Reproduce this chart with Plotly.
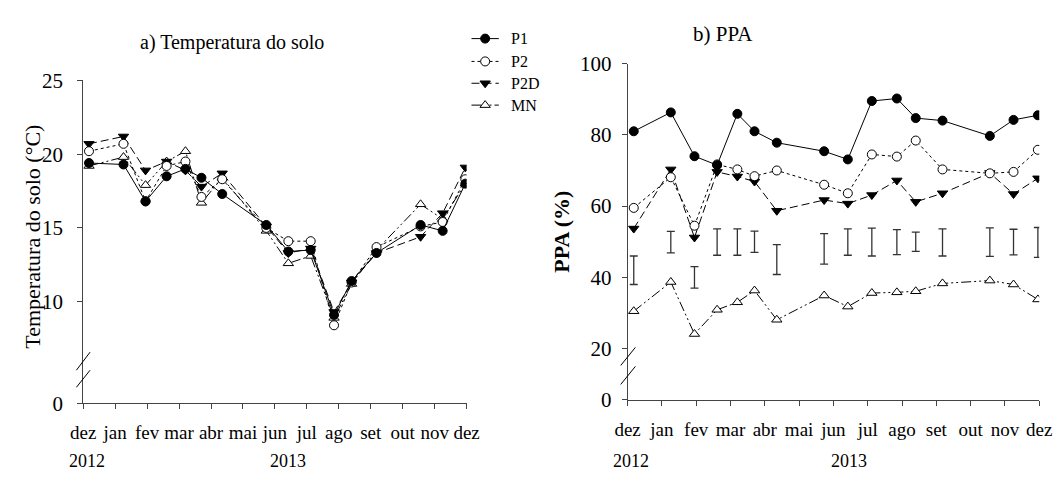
import plotly.graph_objects as go

# ---- data ----------------------------------------------------------------
# sampling dates, in months after dez/2012
dates = [0.18, 1.26, 1.95, 2.61, 3.2, 3.7, 4.35, 5.73, 6.42, 7.12, 7.85, 8.4, 9.18, 10.56, 11.25, 11.96]
month_labels = ["dez", "jan", "fev", "mar", "abr", "mai", "jun", "jul", "ago", "set", "out", "nov", "dez"]

# a) soil temperature (°C)
temp_P1 = [19.4, 19.3, 16.8, 18.5, 19.0, 18.4, 17.3, 15.2, 13.4, 13.5, 9.1, 11.4, 13.3, 15.2, 14.8, 18.0]
temp_P2 = [20.2, 20.7, 16.8, 19.2, 19.5, 17.1, 18.3, 15.0, 14.1, 14.1, 8.4, 11.3, 13.7, 15.1, 15.4, 18.3]
temp_P2D = [20.7, 21.2, 18.9, 19.5, 18.9, 17.8, 18.7, 15.1, 13.3, 13.6, 9.3, 11.3, 13.3, 14.4, 16.0, 19.1]
temp_MN = [19.2, 19.8, 17.9, 19.5, 20.2, 16.7, 18.4, 14.8, 12.6, 13.1, 8.9, 11.2, 13.5, 16.6, 15.6, 18.0]

# b) PPA (%)
ppa_P1 = [81.0, 86.3, 74.0, 71.5, 85.9, 81.0, 77.8, 75.4, 73.1, 89.5, 90.2, 84.7, 84.0, 79.7, 84.2, 85.5]
ppa_P2 = [59.5, 68.1, 54.5, 71.7, 70.3, 68.4, 70.0, 66.0, 63.6, 74.5, 73.9, 78.4, 70.3, 69.2, 69.6, 75.8]
ppa_P2D = [53.7, 70.3, 51.2, 69.6, 68.3, 66.9, 58.7, 61.7, 60.7, 63.1, 67.2, 61.2, 63.6, 69.3, 63.4, 67.8]
ppa_MN = [30.5, 38.7, 24.1, 30.9, 33.0, 36.3, 28.1, 34.9, 31.8, 35.6, 35.8, 36.1, 38.3, 39.1, 38.0, 33.8]

# b) error bars (centre and half-length)
bar_center = [42.0, 49.9, 40.0, 49.9, 49.9, 50.0, 45.0, 48.0, 49.9, 49.9, 49.9, 50.0, 49.8, 49.9, 49.9, 49.8]
bar_half = [4.0, 3.0, 3.0, 3.7, 3.7, 3.0, 4.2, 4.3, 3.7, 3.9, 3.5, 2.7, 3.8, 4.0, 3.6, 4.2]

series_names = ["P1", "P2", "P2D", "MN"]

# ---- styling ---------------------------------------------------------------
W, H = 1062, 481
FONT = "Liberation Serif"
styles = {
    "P1": dict(dash="solid", symbol="circle", fill="black"),
    "P2": dict(dash="dot", symbol="circle", fill="white"),
    "P2D": dict(dash="8px,4px", symbol="triangle-down", fill="black"),
    "MN": dict(dash="10px,3px,2px,3px,2px,3px", symbol="triangle-up", fill="white"),
}


def px_x(p):
    return p / W


def px_y(p):
    return 1 - p / H


fig = go.Figure()


def add_series(name, xs, ys, xa, ya):
    st = styles[name]
    fig.add_trace(go.Scatter(
        x=xs, y=ys, name=name, mode="lines+markers", xaxis=xa, yaxis=ya,
        line=dict(color="black", width=1, dash=st["dash"]),
        marker=dict(symbol=st["symbol"], size=9, color=st["fill"],
                    line=dict(color="black", width=1)),
        showlegend=False,
    ))


temp = {"P1": temp_P1, "P2": temp_P2, "P2D": temp_P2D, "MN": temp_MN}
ppa = {"P1": ppa_P1, "P2": ppa_P2, "P2D": ppa_P2D, "MN": ppa_MN}

for n in ["MN", "P2D", "P2", "P1"]:
    add_series(n, dates, temp[n], "x", "y")

fig.add_trace(go.Scatter(
    x=dates, y=bar_center, mode="markers", xaxis="x2", yaxis="y2",
    marker=dict(size=1, color="rgba(0,0,0,0)"),
    error_y=dict(type="data", array=bar_half, color="#333", thickness=1.3, width=4),
    showlegend=False, hoverinfo="skip",
))
for n in ["MN", "P2D", "P2", "P1"]:
    add_series(n, dates, ppa[n], "x2", "y2")

# legend, drawn on a small pixel-scaled axis pair
LEG_BOX = (460, 505, 0, 110)          # x0, x1, y0, y1 in pixels
LEG_X0, LEG_X1, LEG_TEXT_X = 470, 498, 508
leg_rows = [28, 52, 75, 98]
for n, r in zip(series_names, leg_rows):
    st = styles[n]
    fig.add_trace(go.Scatter(
        x=[LEG_X0, LEG_X1], y=[r, r], mode="lines", xaxis="x3", yaxis="y3",
        line=dict(color="black", width=1, dash=st["dash"]), showlegend=False, hoverinfo="skip"))
    fig.add_trace(go.Scatter(
        x=[(LEG_X0 + LEG_X1) / 2], y=[r], mode="markers", xaxis="x3", yaxis="y3",
        marker=dict(symbol=st["symbol"], size=9, color=st["fill"], line=dict(color="black", width=1)),
        showlegend=False, hoverinfo="skip"))
    fig.add_annotation(x=px_x(LEG_TEXT_X), y=px_y(r), xref="paper", yref="paper", text=n,
                       showarrow=False, xanchor="left", yanchor="middle",
                       font=dict(family=FONT, size=16, color="black"))

axis_common = dict(showgrid=False, zeroline=False, showline=True, linecolor="#444", linewidth=1,
                   ticks="outside", tickcolor="#444", ticklen=5)
xtick_font = dict(family=FONT, size=19, color="black")
ytick_font = dict(family=FONT, size=21, color="black")

# left y axis: broken between 0 and 10; right: broken between 0 and 20
left_floor = 3.1
right_floor = 5.6

fig.update_layout(
    width=W, height=H, margin=dict(l=0, r=0, t=0, b=0),
    paper_bgcolor="white", plot_bgcolor="rgba(0,0,0,0)",
    xaxis=dict(domain=[px_x(72), px_x(465)], range=[0, 12], tickvals=list(range(13)),
               ticktext=month_labels, anchor="y", tickangle=0, ticklabelstandoff=7,
               tickfont=xtick_font, **axis_common),
    yaxis=dict(domain=[px_y(412), px_y(72)], range=[left_floor, 25],
               tickvals=[left_floor, 10, 15, 20, 25], ticktext=["0", "10", "15", "20", "25"],
               anchor="x", ticklabelstandoff=10, tickfont=ytick_font, **axis_common),
    xaxis2=dict(domain=[px_x(630), px_x(1052)], range=[0, 12], tickvals=list(range(13)),
                ticktext=month_labels, anchor="y2", tickangle=0, ticklabelstandoff=7,
                tickfont=xtick_font, **axis_common),
    yaxis2=dict(domain=[px_y(408.3), px_y(54.3)], range=[right_floor, 100],
                tickvals=[right_floor, 20, 40, 60, 80, 100],
                ticktext=["0", "20", "40", "60", "80", "100"], anchor="x2",
                ticklabelstandoff=6, tickfont=ytick_font, **axis_common),
    xaxis3=dict(domain=[px_x(LEG_BOX[0]), px_x(LEG_BOX[1])], range=[LEG_BOX[0], LEG_BOX[1]],
                visible=False, anchor="y3"),
    yaxis3=dict(domain=[px_y(LEG_BOX[3]), px_y(LEG_BOX[2])], range=[LEG_BOX[3], LEG_BOX[2]],
                visible=False, anchor="x3"),
)

txt = dict(family=FONT, color="black")
annos = [
    dict(x=px_x(224), y=px_y(32), text="a) Temperatura do solo", font=dict(size=20, **txt)),
    dict(x=px_x(728), y=px_y(23), text="b) PPA", font=dict(size=21, **txt)),
    dict(x=px_x(20), y=px_y(237), text="Temperatura do solo (°C)", textangle=-90, font=dict(size=22, **txt)),
    dict(x=px_x(562), y=px_y(231), text="<b>PPA (%)</b>", textangle=-90, font=dict(size=22, **txt)),
    dict(x=px_x(55), y=px_y(473), text="2012", xanchor="left", font=dict(size=18, **txt)),
    dict(x=px_x(282), y=px_y(473), text="2013", font=dict(size=18, **txt)),
    dict(x=px_x(613), y=px_y(473), text="2012", xanchor="left", font=dict(size=18, **txt)),
    dict(x=px_x(857), y=px_y(473), text="2013", font=dict(size=18, **txt)),
]
for a in annos:
    a.setdefault("xanchor", "center")
    fig.add_annotation(xref="paper", yref="paper", showarrow=False, yanchor="middle", **a)

# axis-break marks
breaks = [((65, 377), (79, 358)), ((65, 395), (79, 377)),
          ((623, 372), (638, 353)), ((623, 392), (638, 373))]
for (x0, y0), (x1, y1) in breaks:
    fig.add_shape(type="line", xref="paper", yref="paper",
                  x0=px_x(x0), y0=px_y(y0), x1=px_x(x1), y1=px_y(y1),
                  line=dict(color="black", width=1))

fig.write_html("out.html")
